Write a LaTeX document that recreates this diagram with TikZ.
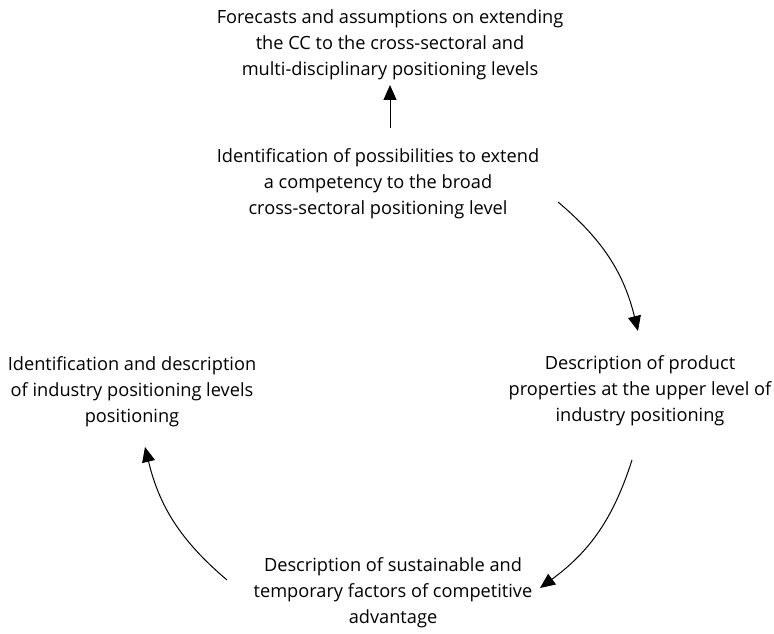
\documentclass[tikz,border=0pt]{standalone}
\usepackage{fontspec}
\setmainfont{Open Sans}
\usetikzlibrary{arrows.meta}
\begin{document}
\begin{tikzpicture}[x=1pt,y=1pt,
  stage/.style={align=center,inner sep=0pt,font=\fontsize{18.2}{26}\selectfont},
  flow/.style={line width=1pt,-{Triangle[width=13pt,length=15pt]}}]
\useasboundingbox (0,0) rectangle (774,633);
% stages of the cycle
\node[stage] (fore) at (390,588) {Forecasts and assumptions on extending\\the CC to the cross-sectoral and\\multi-disciplinary positioning levels};
\node[stage] (ident) at (378,449) {Identification of possibilities to extend\\a competency to the broad\\cross-sectoral positioning level};
\node[stage] (prod) at (640,242) {Description of product\\properties at the upper level of\\industry positioning};
\node[stage] (sust) at (393,40) {Description of sustainable and\\temporary factors of competitive\\advantage};
\node[stage] (levels) at (132,241) {Identification and description\\of industry positioning levels\\positioning};
% arrow end points
\coordinate (a1) at (390,505);
\coordinate (a2) at (390,548);
\coordinate (b1) at (558,431);
\coordinate (b2) at (638,302);
\coordinate (c1) at (632,173);
\coordinate (c2) at (540,45);
\coordinate (d1) at (227,53);
\coordinate (d2) at (145,186);
% connectors
\draw[flow] (a1) -- (a2);
\draw[flow] (b1) to[bend left=18] (b2);
\draw[flow] (c1) to[bend left=18] (c2);
\draw[flow] (d1) to[bend left=18] (d2);
\end{tikzpicture}
\end{document}
